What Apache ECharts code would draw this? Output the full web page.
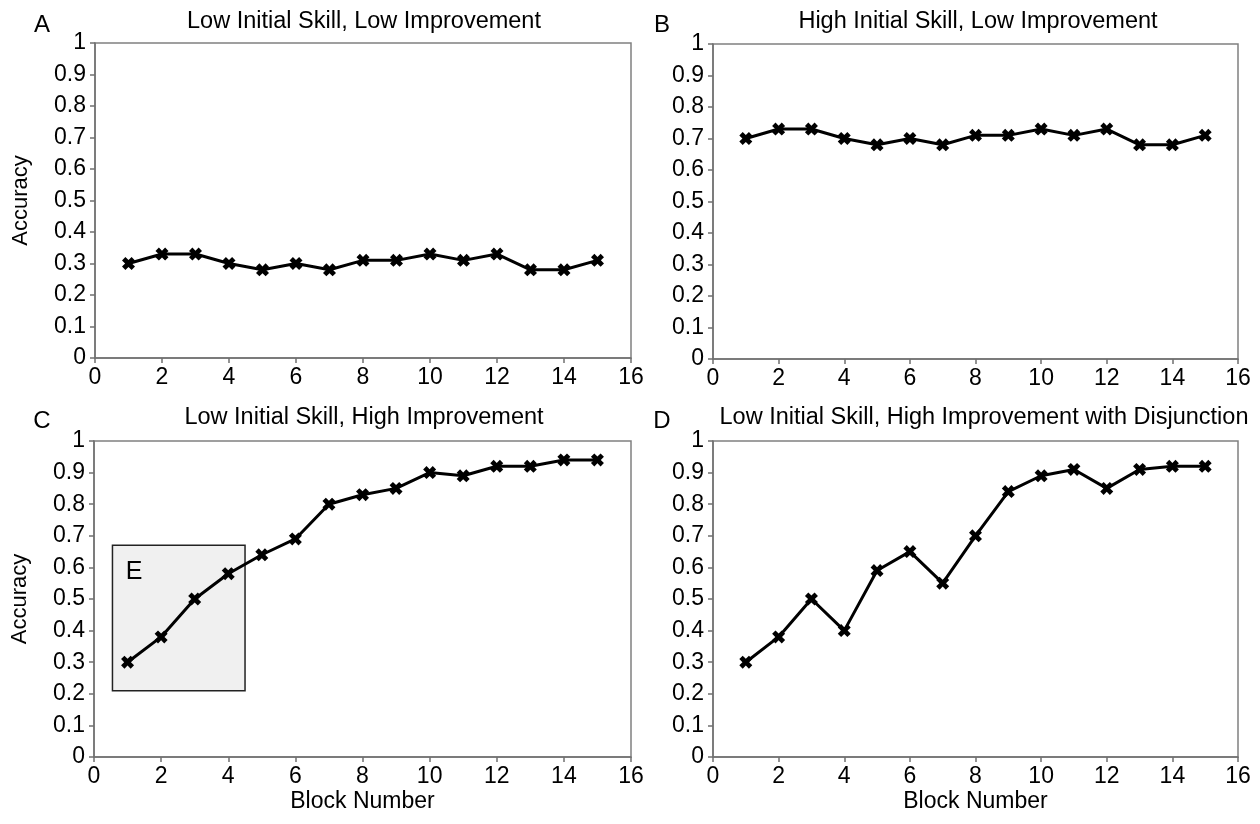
<!DOCTYPE html>
<html>
<head>
<meta charset="utf-8">
<script src="https://cdn.jsdelivr.net/npm/echarts@6/dist/echarts.min.js"></script>
<style>
  html, body { margin: 0; padding: 0; background: #fff; }
  #chart { width: 1260px; height: 824px; }
</style>
</head>
<body>
<div id="chart"></div>
<script>
// block numbers 1..15
let blocks = [1, 2, 3, 4, 5, 6, 7, 8, 9, 10, 11, 12, 13, 14, 15];
let accA = [0.30, 0.33, 0.33, 0.30, 0.28, 0.30, 0.28, 0.31, 0.31, 0.33, 0.31, 0.33, 0.28, 0.28, 0.31];
let accB = [0.70, 0.73, 0.73, 0.70, 0.68, 0.70, 0.68, 0.71, 0.71, 0.73, 0.71, 0.73, 0.68, 0.68, 0.71];
let accC = [0.30, 0.38, 0.50, 0.58, 0.64, 0.69, 0.80, 0.83, 0.85, 0.90, 0.89, 0.92, 0.92, 0.94, 0.94];
let accD = [0.30, 0.38, 0.50, 0.40, 0.59, 0.65, 0.55, 0.70, 0.84, 0.89, 0.91, 0.85, 0.91, 0.92, 0.92];
let titles = ['Low Initial Skill, Low Improvement', 'High Initial Skill, Low Improvement',
    'Low Initial Skill, High Improvement', 'Low Initial Skill, High Improvement with Disjunction'];
let letters = ['A', 'B', 'C', 'D'];
let boxE = [[0.55, 0.21], [4.5, 0.67]]; // shaded region in panel C

let font = 'Liberation Sans, Arial, Helvetica, sans-serif';
let myChart = echarts.init(document.getElementById('chart'));

let grids = [
    { left: 95, top: 43, width: 536, height: 315 },
    { left: 713, top: 44, width: 525, height: 315 },
    { left: 94, top: 441, width: 537, height: 316 },
    { left: 713, top: 441, width: 525, height: 316 }
];
let titlePos = [[364, 22], [978, 22], [364, 418], [984, 418]];
let letterPos = [[42, 25], [662, 25], [42, 421], [662, 421]];

let xAxes = [], yAxes = [], series = [], graphics = [];
let sets = [accA, accB, accC, accD];

grids.forEach((g, i) => {
    g.show = true;
    g.borderColor = '#808080';
    g.borderWidth = 1.5;
    g.backgroundColor = 'transparent';
    xAxes.push({
        type: 'value', gridIndex: i, min: 0, max: 16, interval: 2,
        name: i >= 2 ? 'Block Number' : '',
        nameLocation: 'middle', nameGap: 33, nameMoveOverlap: false,
        nameTextStyle: { color: '#000', fontSize: 23, fontFamily: font },
        axisLine: { show: true, lineStyle: { color: '#707070', width: 1.5 } },
        axisTick: { show: true, length: 5, lineStyle: { color: '#707070', width: 1.5 } },
        axisLabel: { color: '#000', fontSize: 23, fontFamily: font, margin: 8 },
        splitLine: { show: false }
    });
    yAxes.push({
        type: 'value', gridIndex: i, min: 0, max: 1, interval: 0.1,
        name: (i % 2 === 0) ? 'Accuracy' : '',
        nameLocation: 'middle', nameGap: 63, nameMoveOverlap: false,
        nameTextStyle: { color: '#000', fontSize: 22, fontFamily: font },
        axisLine: { show: true, lineStyle: { color: '#707070', width: 1.5 } },
        axisTick: { show: true, length: 5, lineStyle: { color: '#707070', width: 1.5 } },
        axisLabel: {
            color: '#000', fontSize: 23, fontFamily: font, margin: 9,
            formatter: v => (Math.round(v * 10) / 10).toString()
        },
        splitLine: { show: false }
    });
    let s = {
        type: 'line', xAxisIndex: i, yAxisIndex: i,
        data: blocks.map((b, k) => [b, sets[i][k]]),
        symbol: 'path://M0,2.6 L2.6,0 L5,2.4 L7.4,0 L10,2.6 L7.6,5 L10,7.4 L7.4,10 L5,7.6 L2.6,10 L0,7.4 L2.4,5 Z',
        symbolSize: 13,
        itemStyle: { color: '#000' },
        lineStyle: { color: '#000', width: 3 },
        z: 5
    };
    if (i === 2) {
        s.markArea = {
            silent: true,
            itemStyle: { color: '#f0f0f0', borderColor: '#222', borderWidth: 1.5 },
            label: { show: true, position: 'insideTopLeft', offset: [9, 10], color: '#000', fontSize: 25, fontFamily: font },
            data: [[{ name: 'E', coord: boxE[0] }, { coord: boxE[1] }]]
        };
    }
    series.push(s);
    graphics.push({
        type: 'text', x: titlePos[i][0], y: titlePos[i][1],
        style: { text: titles[i], font: '23.5px ' + font, fill: '#000', align: 'center', verticalAlign: 'middle' }
    });
    graphics.push({
        type: 'text', x: letterPos[i][0], y: letterPos[i][1],
        style: { text: letters[i], font: '24px ' + font, fill: '#000', align: 'center', verticalAlign: 'middle' }
    });
});

let option = {
    backgroundColor: '#fff',
    animation: false,
    grid: grids,
    xAxis: xAxes,
    yAxis: yAxes,
    series: series,
    graphic: graphics
};
myChart.setOption(option);
</script>
</body>
</html>
